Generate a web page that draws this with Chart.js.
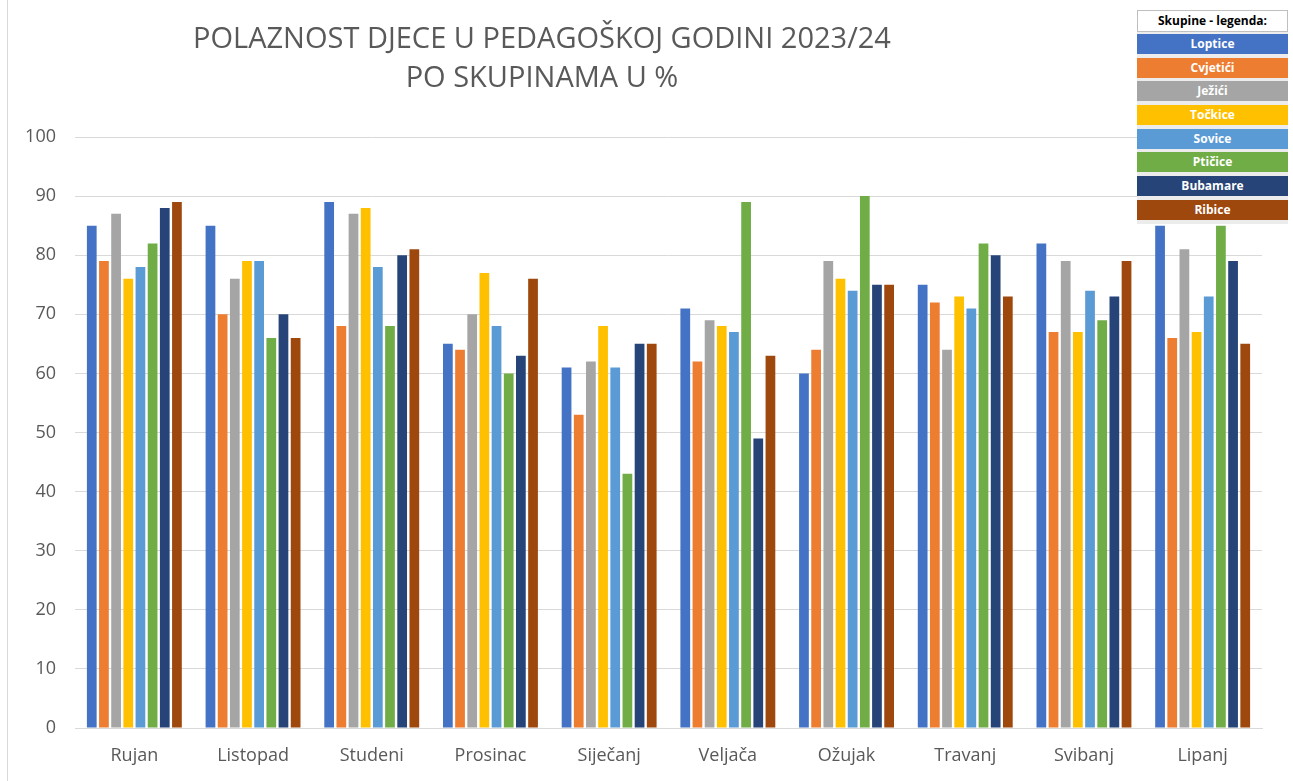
<!DOCTYPE html>
<html>
<head>
<meta charset="utf-8">
<script src="https://cdn.jsdelivr.net/npm/chart.js@4"></script>
<style>
  html, body { margin: 0; padding: 0; background: #fff; }
  #wrap { position: relative; width: 1293px; height: 781px; }
  #edge { position: absolute; left: 7px; top: 0; width: 1px; height: 781px; background: #d9d9d9; }
  #chart { position: absolute; left: 0; top: 0; }
  #legend { position: absolute; left: 1137px; top: 10px; width: 151px; background: #ececec; font-family: "Open Sans", "DejaVu Sans", sans-serif; }
  #legend div { height: 20px; line-height: 20px; text-align: center; font-size: 12px; font-weight: bold; color: #fff; margin-bottom: 3.7px; }
  #legend .head { background: #fff; color: #000; border: 1px solid #bfbfbf; height: 20px; margin-bottom: 2px; }
</style>
</head>
<body>
<div id="wrap">
  <div id="edge"></div>
  <canvas id="chart" width="1293" height="781"></canvas>
  <div id="legend"></div>
</div>
<script>
const months = ['Rujan', 'Listopad', 'Studeni', 'Prosinac', 'Siječanj', 'Veljača', 'Ožujak', 'Travanj', 'Svibanj', 'Lipanj']
const groups = ['Loptice', 'Cvjetići', 'Ježići', 'Točkice', 'Sovice', 'Ptičice', 'Bubamare', 'Ribice']
const colors = ['#4472C4', '#ED7D31', '#A5A5A5', '#FFC000', '#5B9BD5', '#70AD47', '#264478', '#9E480E']

// values per group, in month order
const loptice  = [85, 85, 89, 65, 61, 71, 60, 75, 82, 85]
const cvjetici = [79, 70, 68, 64, 53, 62, 64, 72, 67, 66]
const jezici   = [87, 76, 87, 70, 62, 69, 79, 64, 79, 81]
const tockice  = [76, 79, 88, 77, 68, 68, 76, 73, 67, 67]
const sovice   = [78, 79, 78, 68, 61, 67, 74, 71, 74, 73]
const pticice  = [82, 66, 68, 60, 43, 89, 90, 82, 69, 85]
const bubamare = [88, 70, 80, 63, 65, 49, 75, 80, 73, 79]
const ribice   = [89, 66, 81, 76, 65, 63, 75, 73, 79, 65]

const yTicks = [0, 10, 20, 30, 40, 50, 60, 70, 80, 90, 100]
const titleLines = ['POLAZNOST DJECE U PEDAGOŠKOJ GODINI 2023/24', 'PO SKUPINAMA U %']

const series = [loptice, cvjetici, jezici, tockice, sovice, pticice, bubamare, ribice]

const datasets = series.map((data, i) => ({
    label: groups[i],
    data,
    backgroundColor: colors[i],
    borderWidth: 0,
    barPercentage: 0.8,
    categoryPercentage: 0.82
}))

// custom legend box like the sheet cells
const legendBox = document.getElementById('legend')
const head = document.createElement('div')
head.className = 'head'
head.textContent = 'Skupine - legenda:'
legendBox.appendChild(head)
groups.forEach((g, i) => {
    const row = document.createElement('div')
    row.style.background = colors[i]
    row.textContent = g
    legendBox.appendChild(row)
})

const titlePlugin = {
    id: 'twoLineTitle',
    afterDraw(chart) {
        const ctx = chart.ctx
        ctx.save()
        ctx.fillStyle = '#595959'
        ctx.font = '29px "Open Sans", sans-serif'
        ctx.textAlign = 'center'
        ctx.textBaseline = 'middle'
        ctx.fillText(titleLines[0], 542, 40)
        ctx.fillText(titleLines[1], 542, 79)
        ctx.restore()
    }
}

new Chart(document.getElementById('chart').getContext('2d'), {
    type: 'bar',
    data: { labels: months, datasets },
    options: {
        responsive: false,
        animation: false,
        layout: { padding: { top: 137, right: 31, left: 0, bottom: 0 } },
        plugins: {
            legend: { display: false },
            title: { display: false },
            tooltip: { enabled: false }
        },
        scales: {
            x: {
                grid: { display: false, drawTicks: false },
                border: { color: '#d9d9d9' },
                ticks: { color: '#595959', font: { family: 'Open Sans', size: 18 }, padding: 17 },
                afterFit: s => { s.height = 53 }
            },
            y: {
                min: 0,
                max: 100,
                afterBuildTicks: s => { s.ticks = yTicks.map(v => ({ value: v })) },
                grid: { color: '#d9d9d9', drawTicks: false },
                border: { display: false },
                ticks: { color: '#595959', font: { family: 'Open Sans', size: 18 }, padding: 19 },
                afterFit: s => { s.width = 75 }
            }
        }
    },
    plugins: [titlePlugin]
})
</script>
</body>
</html>
